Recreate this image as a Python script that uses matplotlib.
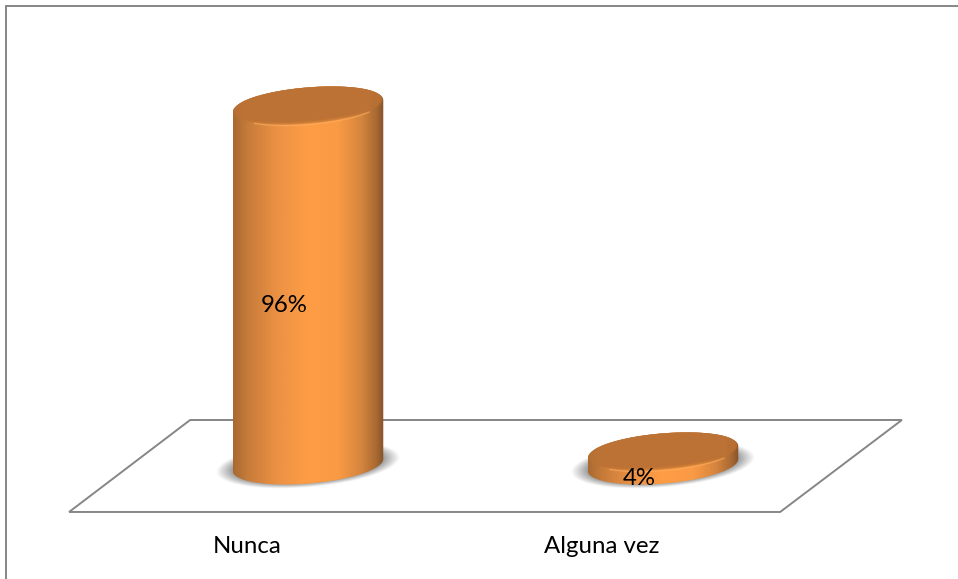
"""3D-style cylinder chart: Nunca / Alguna vez."""

import matplotlib

matplotlib.use("Agg")

import matplotlib.pyplot as plt  # noqa: E402
import numpy as np  # noqa: E402
from matplotlib.colors import LinearSegmentedColormap  # noqa: E402
from matplotlib.patches import Polygon  # noqa: E402

categories = ["Nunca", "Alguna vez"]
values = [96.5, 3.5]
labels = ["96%", "4%"]

W, H = 958, 579
HALF_W = 0.212   # cylinder half width, category units
DEPTH = 5.0      # ellipse half height, value units
TILT = 1.6       # rise of the right edge, value units

body_cmap = LinearSegmentedColormap.from_list("body", [
    (0.00, "#a86a32"), (0.10, "#c87c3a"), (0.30, "#ec9245"), (0.50, "#ff9d45"),
    (0.70, "#f99a45"), (0.85, "#d5853e"), (0.95, "#a96a32"), (1.00, "#85532a")])


def ellipse(cx, cy, t=None, sx=1.0, shrink=0.0):
    if t is None:
        t = np.linspace(0, 2 * np.pi, 200)
    return (cx + sx * HALF_W * np.cos(t),
            cy + (DEPTH - shrink) * np.sin(t) + TILT * sx * np.cos(t))


def draw_shadow(ax, cx):
    xs = np.linspace(cx - 0.32, cx + 0.32, 300)
    ys = np.linspace(-10, 10, 200)
    xx, yy = np.meshgrid(xs, ys)
    u = (xx - cx) / HALF_W
    v = (yy - TILT * u) / DEPTH
    r = np.sqrt(u ** 2 + v ** 2)
    rgba = np.zeros(xx.shape + (4,))
    rgba[..., :3] = 0.36
    rgba[..., 3] = 0.75 * np.clip((1.22 - r) / 0.28, 0, 1)
    ax.imshow(rgba, extent=(xs[0], xs[-1], ys[0], ys[-1]), origin="lower",
              aspect="auto", zorder=2, interpolation="bilinear")


def draw_cylinder(ax, cx, val):
    # body: side gradient clipped to the outline, top ellipse included
    bx, by = ellipse(cx, 0, t=np.linspace(np.pi, 2 * np.pi, 100))
    tx, ty = ellipse(cx, val, t=np.linspace(0, np.pi, 100))
    outline = Polygon(np.column_stack([np.r_[bx, tx], np.r_[by, ty]]),
                      transform=ax.transData, fc="none", ec="none")
    ax.add_patch(outline)
    grad = np.linspace(0, 1, 256)[None, :]
    im = ax.imshow(grad, cmap=body_cmap, vmin=0, vmax=1, aspect="auto", zorder=3,
                   extent=(cx - HALF_W, cx + HALF_W, -10, val + 10))
    im.set_clip_path(outline)

    # soft front highlight along the edge of the top
    x, y = ellipse(cx, val, t=np.linspace(np.pi * 1.25, np.pi * 1.8, 80))
    ax.plot(x, y, color="#ffb060", lw=1, alpha=0.6, zorder=3.5)

    # top face, nested layers give the bevelled rim
    for k, f in enumerate(np.linspace(1, 0, 10)):
        x, y = ellipse(cx, val + 0.65 * (1 - f) + 0.1,
                       sx=1.0 - 0.035 * (1 - f) - 0.005,
                       shrink=0.65 * (1 - f) + 0.1)
        ax.fill(x, y, color="#bb7234", alpha=0.3, lw=0, zorder=4 + k * 0.01)


fig = plt.figure(figsize=(W / 100, H / 100), dpi=100)
plt.rcParams["font.family"] = ["Lato", "DejaVu Sans"]
ax = fig.add_axes((0, 0, 1, 1))
ax.axis("off")

pos = np.arange(len(categories))

# floor
floor_x = [-0.673, 1.330, 1.673, -0.332]
floor_y = [-12.63, -12.63, 12.1, 12.1]
ax.add_patch(Polygon(np.column_stack([floor_x, floor_y]), closed=True, fc="white",
                     ec="#868686", lw=1.4, zorder=1))

for p, val, lab, cat in zip(pos, values, labels, categories):
    draw_shadow(ax, p)
    draw_cylinder(ax, p, val)
    ax.annotate(lab, (p, val / 2), xytext=(-24, -20), textcoords="offset pixels",
                ha="center", va="center", fontsize=17.3, color="black", zorder=6)
    ax.annotate(cat, (p, floor_y[0]), xytext=(-61, -35), textcoords="offset pixels",
                ha="center", va="center", fontsize=17.3, color="black", zorder=6)

ax.set_xlim(-308 / 355, 650 / 355)
ax.set_ylim(-114 / 3.72, 465 / 3.72)

# chart frame, right and bottom edges fall outside the picture
fig.add_artist(plt.Rectangle((6.3 / W, -10 / H), 1000 / W, (10 + 573) / H, fc="none",
                             ec="#868686", lw=1.4, transform=fig.transFigure))

fig.savefig("out.png", dpi=100)
plt.close(fig)
